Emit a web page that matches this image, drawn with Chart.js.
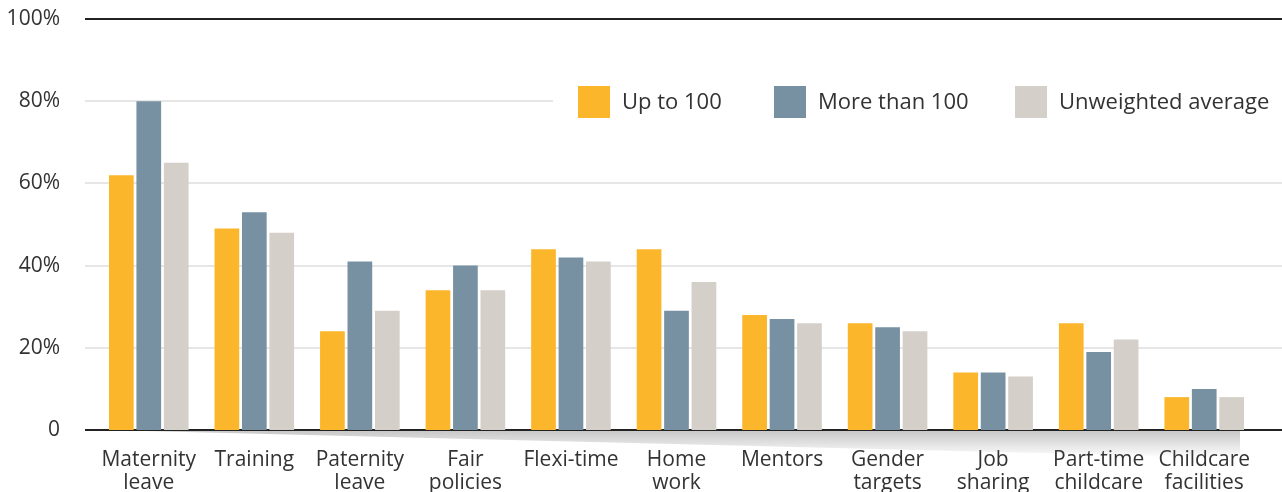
<!DOCTYPE html>
<html>
<head>
<meta charset="utf-8">
<script src="https://cdn.jsdelivr.net/npm/chart.js@4/dist/chart.umd.min.js"></script>
<style>
  html, body { margin: 0; padding: 0; background: #fff; }
  #wrap { width: 1282px; height: 492px; }
</style>
</head>
<body>
<div id="wrap"><canvas id="grafico"></canvas></div>
<script>
// dados
const categorias = [
    ['Maternity', 'leave'], 'Training', ['Paternity', 'leave'], ['Fair', 'policies'],
    'Flexi-time', ['Home', 'work'], 'Mentors', ['Gender', 'targets'],
    ['Job', 'sharing'], ['Part-time', 'childcare'], ['Childcare', 'facilities']
];
const ate100 = [62, 49, 24, 34, 44, 44, 28, 26, 14, 26, 8];
const maisDe100 = [80, 53, 41, 40, 42, 29, 27, 25, 14, 19, 10];
const mediaSimples = [65, 48, 29, 34, 41, 36, 26, 24, 13, 22, 8];
const marcasY = [0, 20, 40, 60, 80, 100];

const fonte = "'Open Sans', sans-serif";
const corTexto = '#333333';

// grade, eixo e sombra desenhados à mão (a grade vai até a borda do canvas)
const gradePlugin = {
    id: 'grade',
    beforeDatasetsDraw(chart) {
        const ctx = chart.ctx;
        const y = chart.scales.y;
        const x0 = 85, x1 = chart.width;
        ctx.save();
        // sombra em cunha sob o eixo
        const base = y.getPixelForValue(0);
        const g = ctx.createLinearGradient(0, base, 0, base + 28);
        g.addColorStop(0, 'rgba(130,130,130,0.45)');
        g.addColorStop(1, 'rgba(130,130,130,0)');
        ctx.fillStyle = g;
        ctx.beginPath();
        ctx.moveTo(x0 + 20, base);
        ctx.lineTo(1240, base);
        ctx.lineTo(1240, base + 28);
        ctx.closePath();
        ctx.fill();
        marcasY.forEach(v => {
            const py = Math.round(y.getPixelForValue(v));
            ctx.beginPath();
            ctx.strokeStyle = (v === 0 || v === 100) ? '#222' : '#e6e6e6';
            ctx.lineWidth = 2;
            ctx.moveTo(x0, py);
            ctx.lineTo(x1, py);
            ctx.stroke();
        });
        ctx.restore();
    }
};

// legenda com fundo branco por cima da grade
const legendaPlugin = {
    id: 'legenda',
    afterDraw(chart) {
        const ctx = chart.ctx;
        const posicoes = [578, 774, 1015];
        ctx.save();
        ctx.fillStyle = '#fff';
        ctx.fillRect(553, 80, chart.width - 553, 44);
        ctx.font = '22px ' + fonte;
        ctx.textBaseline = 'middle';
        chart.data.datasets.forEach((ds, i) => {
            ctx.fillStyle = ds.backgroundColor;
            ctx.fillRect(posicoes[i], 86, 32, 32);
            ctx.fillStyle = corTexto;
            ctx.fillText(ds.label, posicoes[i] + 44, 103);
        });
        ctx.restore();
    }
};

new Chart(document.getElementById('grafico'), {
    type: 'bar',
    data: {
        labels: categorias,
        datasets: [
            { label: 'Up to 100', data: ate100, backgroundColor: '#FBB62B' },
            { label: 'More than 100', data: maisDe100, backgroundColor: '#7791A3' },
            { label: 'Unweighted average', data: mediaSimples, backgroundColor: '#D4CFC8' }
        ]
    },
    options: {
        responsive: true,
        maintainAspectRatio: false,
        animation: false,
        layout: { padding: { top: 19, right: 25, left: 0, bottom: 0 } },
        datasets: {
            bar: { categoryPercentage: 0.78, barPercentage: 0.9, borderSkipped: false }
        },
        plugins: {
            legend: { display: false },
            tooltip: { enabled: false }
        },
        scales: {
            x: {
                grid: { display: false, drawTicks: false },
                border: { display: false },
                ticks: {
                    color: corTexto,
                    font: { family: fonte, size: 21, lineHeight: 1.1 },
                    padding: 18,
                    maxRotation: 0,
                    autoSkip: false
                },
                afterFit(scale) { scale.height = 62; }
            },
            y: {
                min: 0,
                max: 100,
                grid: { display: false, drawTicks: false },
                border: { display: false },
                ticks: {
                    stepSize: 20,
                    color: corTexto,
                    padding: 36,
                    font: { family: fonte, size: 21 },
                    callback: v => v === 0 ? '0' : v + '%'
                },
                afterFit(scale) {
                    // o padding dos ticks não deve empurrar a área do gráfico
                    scale.width = 96;
                    scale.paddingTop = 0;
                    scale.paddingBottom = 0;
                }
            }
        }
    },
    plugins: [gradePlugin, legendaPlugin]
});
</script>
</body>
</html>
